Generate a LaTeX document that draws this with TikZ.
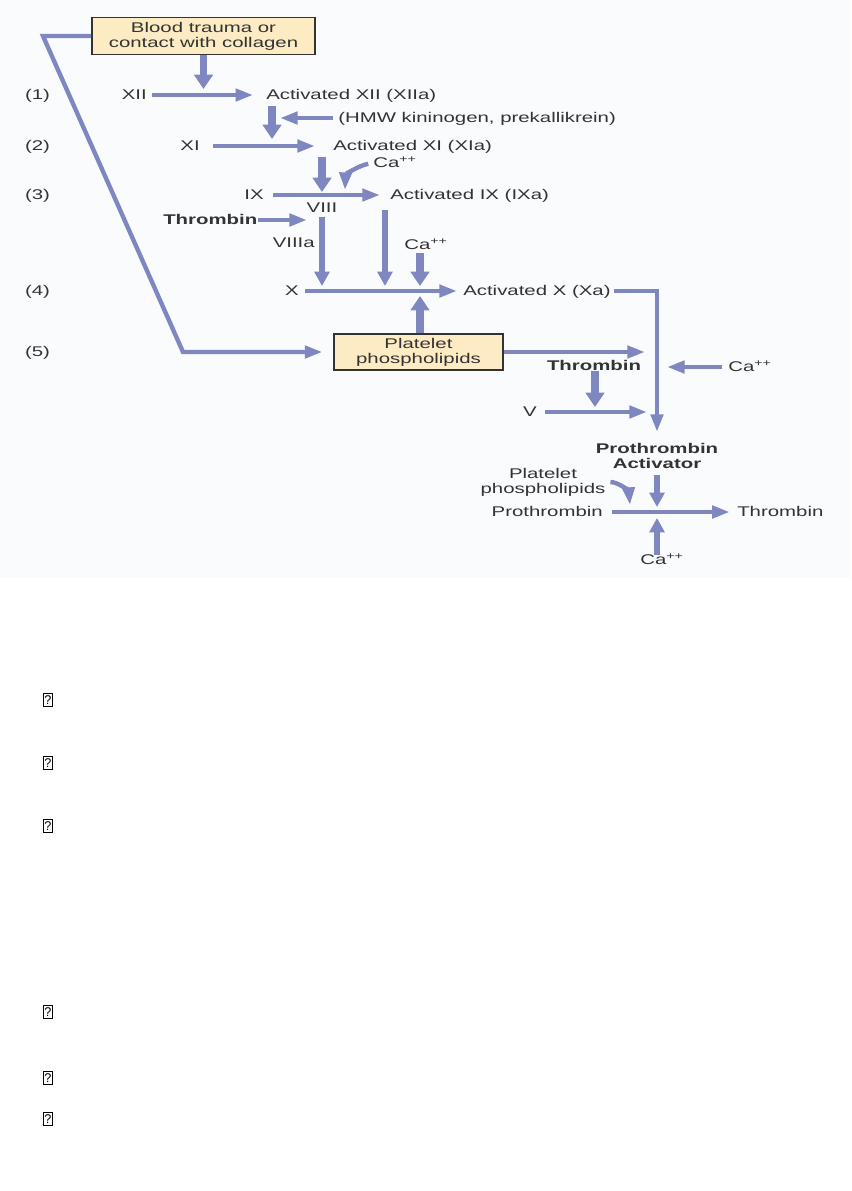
\documentclass[tikz,border=0pt]{standalone}
\usepackage{fontspec}
\setmainfont{Liberation Sans}[FakeStretch=1.45]
\newfontfamily\plainfont{Liberation Sans}
\usetikzlibrary{arrows.meta, positioning}
\definecolor{pathblue}{HTML}{7F87C1}
\definecolor{boxfill}{HTML}{FCEBC3}
\definecolor{panelbg}{HTML}{FAFBFC}
\definecolor{inkgray}{HTML}{333333}

\begin{document}
\begin{tikzpicture}[
    x=0.025cm, y=-0.025cm,
    every node/.style={text=inkgray, font=\fontsize{10}{10.5}\selectfont},
    lab/.style={inner sep=0pt, text height=7pt, text depth=0pt},
    blab/.style={lab, font=\fontsize{10}{10.5}\selectfont\bfseries},
    pbox/.style={rectangle, draw=inkgray, line width=0.9pt, fill=boxfill,
                 align=center, inner sep=1pt},
    arr/.style={draw=pathblue, line width=3.1pt,
                -{Triangle[length=0.44cm, width=0.3cm]}},
    arrm/.style={arr, line width=4.2pt, -{Triangle[length=0.36cm, width=0.37cm]}},
    fat/.style={arr, line width=5.6pt, -{Triangle[length=0.36cm, width=0.46cm]}},
    qbox/.style={draw=black, line width=0.8pt, inner sep=0pt, text=black,
                 minimum width=0.22cm, minimum height=0.33cm,
                 font=\plainfont\fontsize{9}{9}\selectfont}
]
    \useasboundingbox (0,0) rectangle (851,1191);
    \fill[panelbg] (0,0) rectangle (851,578);

    % boxes
    \node[pbox, minimum width=5.58cm, minimum height=0.93cm] (trauma) at (203.5,36)
        {Blood trauma or\\contact with collagen};
    \node[pbox, minimum width=4.23cm, minimum height=0.9cm] (plt) at (418.5,352)
        {Platelet\\phospholipids};

    % reaction numbers
    \foreach \n/\y in {1/95, 2/146, 3/195, 4/291, 5/352}
        \node[lab] (row\n) at (37.5,\y) {(\n)};

    % factors
    \node[lab, anchor=east]  (xii)   at (147,95)  {XII};
    \node[lab, anchor=west]  (axii)  at (266,95)  {Activated XII (XIIa)};
    \node[lab, anchor=west]  (hmw)   at (338,118) {(HMW kininogen, prekallikrein)};
    \node[lab, anchor=east]  (xi)    at (200,146) {XI};
    \node[lab, anchor=west]  (axi)   at (333,146) {Activated XI (XIa)};
    \node[lab, anchor=west]  (ca1)   at (373,163) {Ca\textsuperscript{++}};
    \node[lab, anchor=east]  (ix)    at (264,195) {IX};
    \node[lab, anchor=west]  (aix)   at (390,195) {Activated IX (IXa)};
    \node[lab]               (viii)  at (322,208) {VIII};
    \node[blab, anchor=west] (thr1)  at (163,220) {Thrombin};
    \node[lab, anchor=east]  (viiia) at (315,243) {VIIIa};
    \node[lab]               (ca2)   at (426,245) {Ca\textsuperscript{++}};
    \node[lab, anchor=east]  (x)     at (299,291) {X};
    \node[lab, anchor=west]  (axa)   at (463,291) {Activated X (Xa)};
    \node[blab]              (thr2)  at (594,366) {Thrombin};
    \node[lab, anchor=west]  (ca3)   at (728,367) {Ca\textsuperscript{++}};
    \node[lab]               (v)     at (530,412) {V};
    \node[inner sep=0pt, align=center, font=\fontsize{10}{10.5}\selectfont\bfseries]
                             (pa)    at (657,456) {Prothrombin\\Activator};
    \node[inner sep=0pt, align=center] (pp) at (543,482) {Platelet\\phospholipids};
    \node[lab, anchor=east]  (pro)   at (603,512) {Prothrombin};
    \node[lab, anchor=west]  (thr3)  at (737,512) {Thrombin};
    \node[lab]               (ca4)   at (662,560) {Ca\textsuperscript{++}};

    % free ends on the reaction lines
    \coordinate (j1)  at (203.5,89);
    \coordinate (s2)  at (272,106);
    \coordinate (t2)  at (272,139);
    \coordinate (k1)  at (280,118);
    \coordinate (s3)  at (322,157);
    \coordinate (t3)  at (322,192);
    \coordinate (k2)  at (345,190);
    \coordinate (k3)  at (307,220);
    \coordinate (t4a) at (322,286);
    \coordinate (s4b) at (385,210);
    \coordinate (t4b) at (385,286);
    \coordinate (t4c) at (420,286);
    \coordinate (u4)  at (420,296);
    \coordinate (c1)  at (43,36);
    \coordinate (c2)  at (183,352);
    \coordinate (t5)  at (645,352);
    \coordinate (k5)  at (667,367);
    \coordinate (t6)  at (595,407);
    \coordinate (t7)  at (647,412);
    \coordinate (jb)  at (657,507);
    \coordinate (kb)  at (630,505);
    \coordinate (u8)  at (657,518);

    % cascade
    \draw[fat] (trauma) -- (j1);
    \draw[arr, shorten <=0.12cm, shorten >=0.32cm] (xii) -- (axii);
    \draw[fat] (s2) -- (t2);
    \draw[arr, shorten <=0.12cm] (hmw) -- (k1);
    \draw[arr, shorten <=0.32cm, shorten >=0.45cm] (xi) -- (axi);
    \draw[fat] (s3) -- (t3);
    \draw[arr, shorten <=0.12cm] (ca1.west) to[out=190, in=88] (k2);
    \draw[arr, shorten <=0.22cm, shorten >=0.25cm] (ix) -- (aix);
    \draw[arr] (thr1) -- (k3);
    \draw[arrm, shorten <=0.1cm] (viii) -- (t4a);
    \draw[arrm] (s4b) -- (t4b);
    \draw[fat, shorten <=0.08cm] (ca2.south -| t4c) -- (t4c);
    \draw[arr, shorten <=0.15cm, shorten >=0.15cm] (x) -- (axa);
    \draw[fat] (plt.north -| u4) -- (u4);
    \draw[arr, shorten >=0.27cm] (trauma.west) -- (c1) -- (c2) -- (plt.west);
    \draw[arr] (plt) -- (t5);
    \draw[arr, shorten <=0.07cm, shorten >=0.28cm] (axa.east) -| (pa.north);
    \draw[arr, shorten <=0.15cm] (ca3) -- (k5);
    \draw[fat] (thr2.south -| t6) -- (t6);
    \draw[arr, shorten <=0.2cm] (v) -- (t7);
    \draw[arrm, shorten <=0.15cm] (pa) -- (jb);
    \draw[arr, shorten <=0.12cm] (pp.east) to[out=0, in=95] (kb);
    \draw[arr, shorten <=0.22cm, shorten >=0.18cm] (pro) -- (thr3);
    \draw[arrm] (ca4.north -| u8) -- (u8);

    % glyph boxes below the figure
    \foreach \y [count=\i] in {700,763,826,1012,1078,1119}
        \node[qbox] (miss\i) at (48,\y) {?};
\end{tikzpicture}
\end{document}
